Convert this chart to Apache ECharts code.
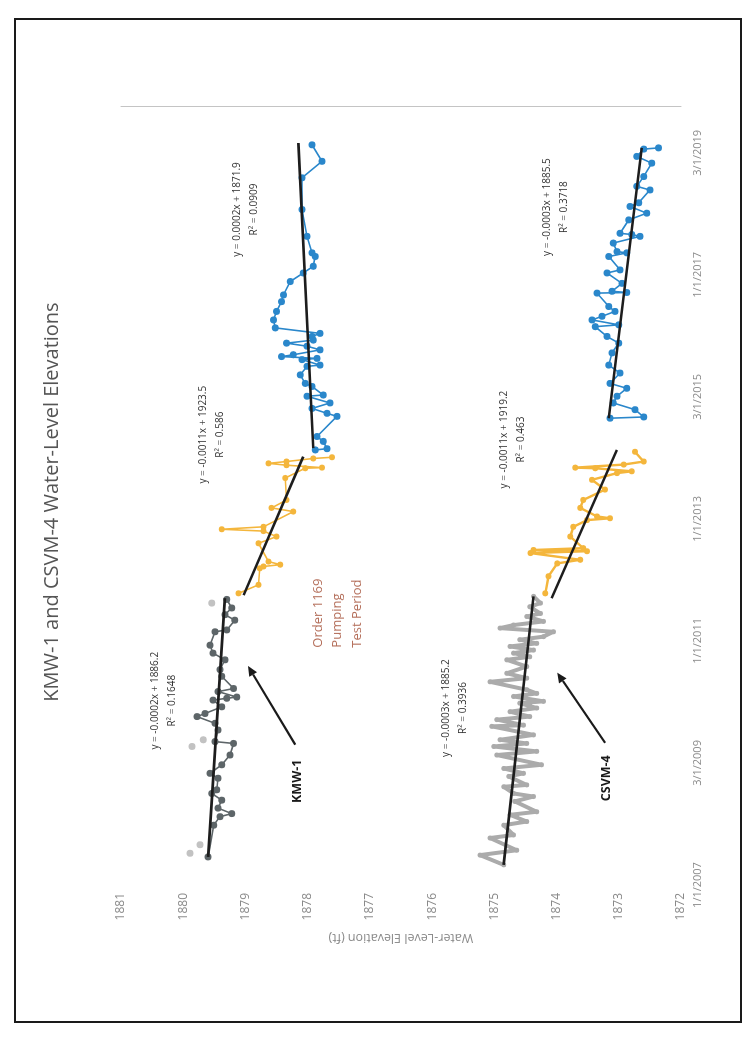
<!DOCTYPE html>
<html><head><meta charset="utf-8">
<script src="https://cdn.jsdelivr.net/npm/echarts@6/dist/echarts.min.js"></script>
<style>
html,body{margin:0;padding:0;background:#fff;width:751px;height:1039px;overflow:hidden;}
#chart{position:absolute;left:0;top:0;width:1039px;height:751px;transform-origin:0 0;transform:translate(0px,1039px) rotate(-90deg);}
#frame{position:absolute;left:14px;top:18px;width:728px;height:1005px;border:2px solid #1a1a1a;box-sizing:border-box;pointer-events:none;}
</style></head>
<body>
<div id="chart"></div>
<div id="frame"></div>
<script>
// ---------- data (x = decimal year, y = water-level elevation, ft) ----------
const chartTitle = 'KMW-1 and CSVM-4 Water-Level Elevations';
const valueAxisName = 'Water-Level Elevation (ft)';
const dateTickLabels = ['1/1/2007','3/1/2009','1/1/2011','1/1/2013','3/1/2015','1/1/2017','3/1/2019'];

const kmwGrayYears = [2007.46,2007.98,2008.12,2008.17,2008.26,2008.39,2008.50,2008.56,2008.75,2008.83,2008.97,2009.13,2009.32,2009.35,2009.54,2009.65,2009.76,2009.81,2009.92,2010.03,2010.06,2010.08,2010.17,2010.22,2010.42,2010.53,2010.69,2010.80,2010.93,2011.15,2011.18,2011.34,2011.43,2011.54,2011.68];
const kmwGrayVals  = [1879.60,1879.51,1879.41,1879.22,1879.44,1879.38,1879.54,1879.46,1879.44,1879.57,1879.38,1879.25,1879.19,1879.49,1879.44,1879.49,1879.78,1879.65,1879.38,1879.52,1879.30,1879.14,1879.44,1879.19,1879.38,1879.41,1879.33,1879.52,1879.57,1879.49,1879.30,1879.17,1879.33,1879.22,1879.30];
const kmwLightYears = [2007.52,2007.66,2009.27,2009.38,2011.62];
const kmwLightVals  = [1879.89,1879.73,1879.86,1879.68,1879.54];
const kmwGrayTrendYears = [2007.46,2011.70];
const kmwGrayTrendVals  = [1879.60,1879.33];

const kmwYellowYears = [2011.78,2011.92,2012.19,2012.22,2012.25,2012.30,2012.60,2012.71,2012.80,2012.83,2012.87,2013.12,2013.18,2013.31,2013.67,2013.83,2013.84,2013.88,2013.91,2013.94,2013.99,2014.01];
const kmwYellowVals  = [1879.11,1878.79,1878.77,1878.71,1878.44,1878.63,1878.79,1878.50,1878.71,1879.38,1878.71,1878.23,1878.58,1878.34,1878.36,1878.04,1877.77,1878.34,1878.63,1878.34,1877.91,1877.61];
const kmwYellowTrendYears = [2011.75,2014.02];
const kmwYellowTrendVals  = [1879.03,1878.07];

const kmwBlueYears = [2014.13,2014.15,2014.27,2014.35,2014.68,2014.73,2014.81,2014.90,2015.01,2015.03,2015.17,2015.22,2015.36,2015.50,2015.52,2015.61,2015.63,2015.66,2015.69,2015.77,2015.83,2015.88,2015.93,2015.99,2016.04,2016.13,2016.26,2016.40,2016.56,2016.67,2016.89,2017.03,2017.14,2017.30,2017.36,2017.63,2018.07,2018.59,2018.86,2019.13];
const kmwBlueVals  = [1877.88,1877.69,1877.75,1877.85,1877.53,1877.69,1877.93,1877.64,1878.01,1877.75,1877.93,1878.04,1878.12,1878.01,1877.80,1878.09,1877.85,1878.42,1878.23,1877.80,1878.01,1878.34,1877.91,1877.93,1877.80,1878.52,1878.55,1878.50,1878.42,1878.39,1878.28,1878.07,1877.91,1877.88,1877.93,1878.01,1878.09,1878.09,1877.77,1877.93];
const kmwBlueTrendYears = [2014.16,2019.16];
const kmwBlueTrendVals  = [1877.91,1878.15];

const csvmGrayYears = [2007.33,2007.49,2007.57,2007.77,2007.82,2007.98,2008.04,2008.15,2008.20,2008.37,2008.45,2008.50,2008.61,2008.64,2008.78,2008.83,2008.91,2008.97,2009.13,2009.19,2009.27,2009.32,2009.38,2009.46,2009.60,2009.62,2009.71,2009.76,2009.84,2009.90,2009.98,2010.01,2010.09,2010.14,2010.20,2010.33,2010.39,2010.47,2010.58,2010.69,2010.74,2010.80,2010.85,2010.91,2010.96,2011.02,2011.07,2011.15,2011.21,2011.26,2011.32,2011.40,2011.45,2011.56,2011.62,2011.73];
const csvmGrayVals  = [1874.85,1875.23,1874.64,1875.07,1874.69,1874.85,1874.48,1874.75,1874.32,1874.67,1874.37,1874.69,1874.85,1874.48,1874.77,1874.53,1874.85,1874.24,1874.96,1874.32,1875.01,1874.48,1874.91,1874.37,1875.04,1874.53,1874.96,1874.43,1874.75,1874.32,1874.59,1874.21,1874.69,1874.32,1874.48,1875.07,1874.48,1874.80,1874.48,1874.80,1874.43,1874.69,1874.37,1874.75,1874.32,1874.59,1874.21,1874.05,1874.91,1874.69,1874.21,1874.48,1874.26,1874.43,1874.26,1874.37];
const csvmGrayTrendYears = [2007.33,2011.73];
const csvmGrayTrendVals  = [1874.85,1874.37];

const csvmYellowYears = [2011.78,2012.06,2012.27,2012.33,2012.44,2012.47,2012.49,2012.52,2012.71,2012.87,2012.98,2013.01,2013.04,2013.18,2013.31,2013.48,2013.64,2013.75,2013.78,2013.83,2013.84,2013.89,2013.94,2014.10];
const csvmYellowVals  = [1874.18,1874.13,1873.99,1873.62,1874.42,1873.51,1874.37,1873.57,1873.78,1873.73,1873.51,1873.14,1873.35,1873.62,1873.57,1873.22,1873.43,1873.03,1872.79,1873.38,1873.70,1872.92,1872.60,1872.74];
const csvmYellowTrendYears = [2011.70,2014.13];
const csvmYellowTrendVals  = [1874.08,1873.03];

const csvmBlueYears = [2014.65,2014.67,2014.79,2014.90,2015.01,2015.14,2015.22,2015.39,2015.52,2015.72,2015.88,2015.99,2016.15,2016.18,2016.26,2016.32,2016.40,2016.48,2016.70,2016.71,2016.73,2016.86,2017.03,2017.08,2017.30,2017.36,2017.38,2017.52,2017.63,2017.66,2017.68,2017.90,2018.01,2018.12,2018.18,2018.39,2018.45,2018.61,2018.83,2018.94,2019.06,2019.08];
const csvmBlueVals  = [1873.14,1872.60,1872.74,1873.09,1873.03,1872.87,1873.14,1872.98,1873.16,1873.11,1873.00,1873.19,1873.38,1873.00,1873.43,1873.27,1873.06,1873.16,1873.35,1872.87,1873.11,1872.95,1873.19,1872.98,1873.16,1872.87,1873.03,1873.09,1872.66,1872.79,1872.98,1872.84,1872.55,1872.82,1872.68,1872.50,1872.71,1872.60,1872.47,1872.71,1872.60,1872.36];
const csvmBlueTrendYears = [2014.65,2019.08];
const csvmBlueTrendVals  = [1873.16,1872.63];

// annotation texts, anchored in data coordinates [year, elevation]
const equationTexts = [
  {text:'y = -0.0002x + 1886.2\nR² = 0.1648', at:[2010.02,1880.32]},
  {text:'y = 0.0002x + 1871.9\nR² = 0.0909',  at:[2018.07,1878.99]},
  {text:'y = -0.0011x + 1923.5\nR² = 0.586',  at:[2014.38,1879.54]},
  {text:'y = -0.0003x + 1885.2\nR² = 0.3936', at:[2009.90,1875.63]},
  {text:'y = -0.0011x + 1919.2\nR² = 0.463',  at:[2014.30,1874.71]},
  {text:'y = -0.0003x + 1885.5\nR² = 0.3718', at:[2018.11,1874.02]}
];
const wellLabels = [
  {text:'KMW-1',  at:[2008.70,1878.17], tail:[2009.30,1878.20], head:[2010.59,1878.96]},
  {text:'CSVM-4', at:[2008.75,1873.20], tail:[2009.33,1873.22], head:[2010.48,1873.99]}
];
const pumpingNote = {text:'Order 1169\nPumping\nTest Period', at:[2010.89,1877.83]};

// ---------- chart ----------
const zip = (xs, ys) => xs.map((x, i) => [x, ys[i]]);
const el = document.getElementById('chart');
const chart = echarts.init(el, null, {renderer:'canvas', width:1039, height:751});
const FONT = 'Open Sans, DejaVu Sans, sans-serif';

function dataSeries(xs, ys, color, size, width, z, noLine){
  return {type:'line', data:zip(xs, ys), symbol:'circle', symbolSize:size, showSymbol:true,
    lineStyle:{color:color, width:width, opacity:noLine ? 0 : 1}, itemStyle:{color:color}, z:z, silent:true, animation:false};
}
function trendSeries(xs, ys){
  return {type:'line', data:zip(xs, ys), symbol:'none', lineStyle:{color:'#1d1d1d', width:2.6},
    z:10, silent:true, animation:false};
}

const elements = [];
chart.setOption({
  animation:false,
  backgroundColor:'#ffffff',
  grid:{left:154, right:107, top:121, bottom:70},
  xAxis:{type:'value', min:2007, max:2019.75, interval:2,
    axisLine:{show:false}, axisTick:{show:false}, splitLine:{show:false},
    axisLabel:{fontSize:11, color:'#8a8a8a', margin:11, fontFamily:FONT, showMaxLabel:false,
      formatter:function(v){ const i = Math.round((v-2007)/2);
        return (Math.abs(v-(2007+2*i))<1e-6 && dateTickLabels[i]) ? dateTickLabels[i] : ''; }}},
  yAxis:[
    {type:'value', min:1872, max:1881, interval:1, position:'left',
      axisLine:{show:false}, axisTick:{show:false}, splitLine:{show:false},
      axisLabel:{fontSize:12, color:'#8a8a8a', margin:8, fontFamily:FONT, formatter:v => String(v)},
      name:valueAxisName, nameLocation:'middle', nameGap:42,
      nameTextStyle:{fontSize:12.5, color:'#8a8a8a', fontFamily:FONT}},
    {type:'value', min:1872, max:1881, interval:1, position:'right',
      axisLine:{show:true, lineStyle:{color:'#c4c4c4', width:1}},
      axisTick:{show:false}, axisLabel:{show:false}, splitLine:{show:false}}
  ],
  series:[
    dataSeries(kmwLightYears, kmwLightVals, '#c2c2c2', 7, 0, 2, true),
    dataSeries(csvmGrayYears, csvmGrayVals, '#ababab', 5, 4, 3),
    dataSeries(kmwGrayYears, kmwGrayVals, '#5d6568', 7, 1.6, 4),
    dataSeries(kmwYellowYears, kmwYellowVals, '#f4b63c', 6, 1.6, 4),
    dataSeries(csvmYellowYears, csvmYellowVals, '#f4b63c', 6, 2.4, 4),
    dataSeries(kmwBlueYears, kmwBlueVals, '#2a87cb', 7, 1.6, 4),
    dataSeries(csvmBlueYears, csvmBlueVals, '#2a87cb', 7, 1.6, 4),
    trendSeries(kmwGrayTrendYears, kmwGrayTrendVals),
    trendSeries(kmwYellowTrendYears, kmwYellowTrendVals),
    trendSeries(kmwBlueTrendYears, kmwBlueTrendVals),
    trendSeries(csvmGrayTrendYears, csvmGrayTrendVals),
    trendSeries(csvmYellowTrendYears, csvmYellowTrendVals),
    trendSeries(csvmBlueTrendYears, csvmBlueTrendVals)
  ]
});

const toPx = p => chart.convertToPixel({xAxisIndex:0, yAxisIndex:0}, p);
elements.push({type:'text', x:537, y:52, silent:true,
  style:{text:chartTitle, fontSize:20, fontFamily:FONT, fill:'#555555', align:'center', verticalAlign:'middle', textAlign:'center', textVerticalAlign:'middle'}});
equationTexts.forEach(e => {
  const p = toPx(e.at);
  elements.push({type:'text', x:p[0], y:p[1], silent:true, z:20,
    style:{text:e.text, fontSize:10, lineHeight:17, fontFamily:FONT, fill:'#333333',
      align:'center', verticalAlign:'middle', textAlign:'center', textVerticalAlign:'middle'}});
});
wellLabels.forEach(w => {
  const p = toPx(w.at), a = toPx(w.tail), b = toPx(w.head);
  elements.push({type:'text', x:p[0], y:p[1], silent:true, z:20,
    style:{text:w.text, fontSize:12.5, fontWeight:'bold', fontFamily:FONT, fill:'#1a1a1a',
      align:'center', verticalAlign:'middle', textAlign:'center', textVerticalAlign:'middle'}});
  const dx = b[0]-a[0], dy = b[1]-a[1], L = Math.hypot(dx, dy), ux = dx/L, uy = dy/L, nx = -uy, ny = ux;
  const hx = b[0]-ux*10, hy = b[1]-uy*10;
  elements.push({type:'line', silent:true, z:20, shape:{x1:a[0], y1:a[1], x2:hx, y2:hy},
    style:{stroke:'#1a1a1a', lineWidth:2.2}});
  elements.push({type:'polygon', silent:true, z:20,
    shape:{points:[[b[0],b[1]],[hx+nx*4.5,hy+ny*4.5],[hx-nx*4.5,hy-ny*4.5]]}, style:{fill:'#1a1a1a'}});
});
{
  const p = toPx(pumpingNote.at);
  elements.push({type:'text', x:p[0], y:p[1]-9.75, silent:true, z:20,
    style:{text:pumpingNote.text, fontSize:13, lineHeight:19.5, fontFamily:FONT, fill:'#b5705c',
      align:'left', verticalAlign:'top', textAlign:'left', textVerticalAlign:'top'}});
}
chart.setOption({graphic:{elements:elements}});
</script>
</body></html>
